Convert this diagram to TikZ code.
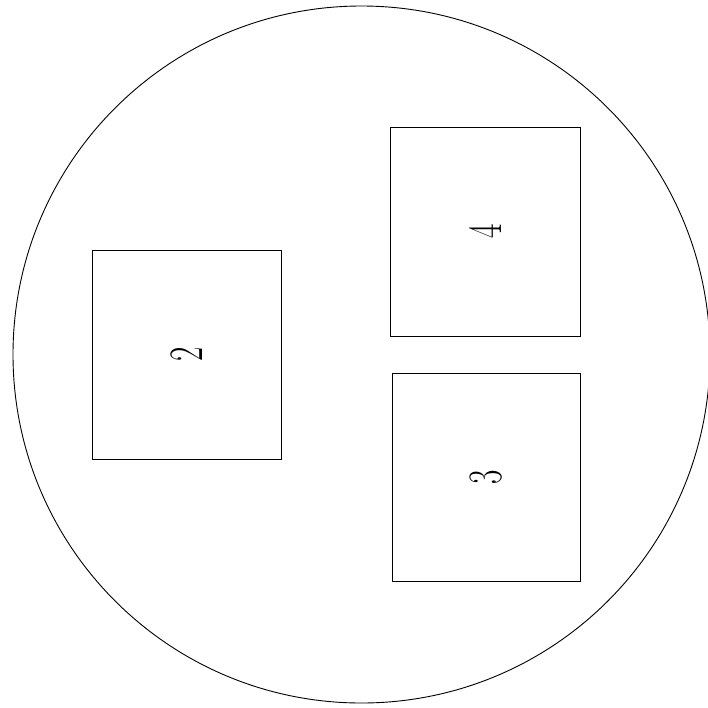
\documentclass[tikz,border=0pt]{standalone}
\begin{document}
\begin{tikzpicture}[x=1pt,y=-1pt,
  boxstyle/.style={draw,line width=1pt},
  digit/.style={rotate=90,inner sep=0pt,font=\fontsize{48}{48}\selectfont}]
\useasboundingbox (0,0) rectangle (708,707);
\begin{scope}
\clip (0,0) rectangle (708,707);
\draw[line width=0.9pt] (361.5,354.5) circle (348.5);
\end{scope}
\draw[boxstyle] (92.5,250) rectangle (281.5,459) coordinate (b2c);
\draw[boxstyle] (390.5,127) rectangle (580,336);
\draw[boxstyle] (392,373) rectangle (580,581);
\node[digit] (n2) at (187,354.5) {\scalebox{0.65}[1]{2}};
\node[digit] (n4) at (485,231.5) {\scalebox{0.65}[1]{4}};
\node[digit] (n3) at (486,477) {\scalebox{0.65}[1]{3}};
\end{tikzpicture}
\end{document}
